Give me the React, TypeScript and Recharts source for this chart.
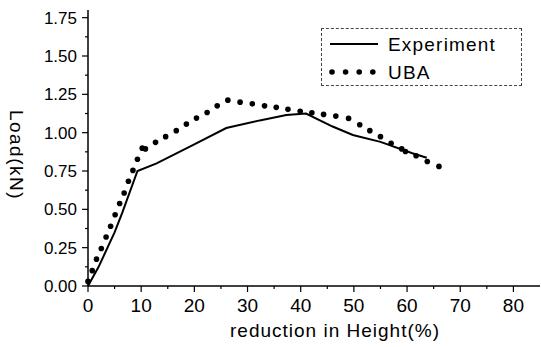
import React from 'react';
import { ComposedChart, Line, XAxis, YAxis, Legend, Label } from 'recharts';

const expX = [0, 2, 3.8, 5, 6.45, 9.3, 12.9, 19.8, 26, 32.3, 37.3, 41, 46, 49.8, 55, 61, 63.7];
const expY = [0, 0.125, 0.26, 0.35, 0.478, 0.75, 0.8, 0.92, 1.03, 1.08, 1.115, 1.125, 1.04, 0.985, 0.94, 0.866, 0.836];

// UBA prediction (dots)
const ubaX = [
  0, 0.8, 1.6, 2.5, 3.4, 4.25, 5.1, 5.95, 6.8, 7.6, 8.45, 9.3, 10.2, 10.8, 12.7, 14.6, 16.6, 18.5, 20.4, 22.4,
  24.3, 26.3, 28.6, 30.9, 33.2, 35.4, 37.6, 39.9, 42.1, 44.3, 46.6, 49, 51.1, 53, 55, 57, 59, 59.7, 61.7, 63.8, 66,
];
const ubaY = [
  0.03, 0.1, 0.175, 0.245, 0.32, 0.39, 0.465, 0.538, 0.607, 0.683, 0.754, 0.827, 0.899, 0.894, 0.937, 0.974, 1.013,
  1.056, 1.095, 1.132, 1.175, 1.212, 1.199, 1.188, 1.175, 1.165, 1.152, 1.139, 1.13, 1.119, 1.108, 1.093, 1.052,
  1.013, 0.974, 0.931, 0.894, 0.877, 0.849, 0.812, 0.78,
];

const xTicks = [0, 5, 10, 15, 20, 25, 30, 35, 40, 45, 50, 55, 60, 65, 70, 75, 80];
const yTicks = [0, 0.125, 0.25, 0.375, 0.5, 0.625, 0.75, 0.875, 1, 1.125, 1.25, 1.375, 1.5, 1.625, 1.75];

const experiment = expX.map((x, i) => ({ x, y: expY[i] }));
const uba = ubaX.map((x, i) => ({ x, y: ubaY[i] }));

const FONT = 'Arial, "Liberation Sans", Helvetica, sans-serif';
const isMajorX = (v: number) => v % 10 === 0;
const isMajorY = (v: number) => Math.abs(v * 4 - Math.round(v * 4)) < 1e-6;

function BottomTick({ x, y, payload }: any) {
  const major = isMajorX(payload.value);
  return (
    <g>
      <line x1={x} x2={x} y1={y} y2={y + (major ? 6 : 3)} stroke="#000" strokeWidth={1.2} />
      {major && (
        <text x={x} y={y + 26} textAnchor="middle" fontSize={19} fontFamily={FONT} fill="#000">
          {payload.value}
        </text>
      )}
    </g>
  );
}

function LeftTick({ x, y, payload }: any) {
  const major = isMajorY(payload.value);
  return (
    <g>
      <line x1={x - (major ? 6 : 3)} x2={x} y1={y} y2={y} stroke="#000" strokeWidth={1.2} />
      {major && (
        <text x={x - 11} y={y + 6} textAnchor="end" fontSize={17} fontFamily={FONT} fill="#000">
          {payload.value.toFixed(2)}
        </text>
      )}
    </g>
  );
}

function TopTick({ x, y, payload }: any) {
  const major = isMajorX(payload.value);
  return <line x1={x} x2={x} y1={y} y2={y + (major ? 6 : 3)} stroke="#000" strokeWidth={1.2} />;
}

function RightTick({ x, y, payload }: any) {
  const major = isMajorY(payload.value);
  return <line x1={x - (major ? 6 : 3)} x2={x} y1={y} y2={y} stroke="#000" strokeWidth={1.2} />;
}

function LegendBox() {
  return (
    <div
      style={{
        width: 201,
        height: 58,
        boxSizing: 'border-box',
        border: '1px dashed #444',
        background: '#fff',
      }}
    >
      <svg width={199} height={56} style={{ display: 'block' }}>
        <line x1={8} x2={56} y1={15} y2={15} stroke="#000" strokeWidth={2} />
        <text x={66} y={22} fontSize={19} fontFamily={FONT} letterSpacing={1.2} fill="#000">
          Experiment
        </text>
        {[0, 1, 2, 3].map((i) => (
          <circle key={i} cx={10 + i * 13.6} cy={43} r={2.8} fill="#000" />
        ))}
        <text x={66} y={50} fontSize={19} fontFamily={FONT} letterSpacing={1.2} fill="#000">
          UBA
        </text>
      </svg>
    </div>
  );
}

export default function App() {
  return (
    <div style={{ position: 'absolute', left: 0, top: 0, width: 541, height: 347, background: '#fff' }}>
      <ComposedChart width={541} height={347} margin={{ top: 10, right: 1, left: 0, bottom: 0 }}>
        <XAxis
          xAxisId="bottom"
          dataKey="x"
          type="number"
          domain={[0, 85]}
          ticks={xTicks}
          interval={0}
          height={61}
          tickSize={0}
          tickMargin={0}
          tickLine={false}
          tick={(p: any) => <BottomTick {...p} />}
          axisLine={{ stroke: '#000', strokeWidth: 1.5 }}
        >
          <Label
            content={() => (
              <text x={335} y={337} textAnchor="middle" fontSize={19} fontFamily={FONT} letterSpacing={1} fill="#000">
                reduction in Height(%)
              </text>
            )}
          />
        </XAxis>
        <XAxis
          xAxisId="top"
          orientation="top"
          dataKey="x"
          type="number"
          domain={[0, 85]}
          ticks={xTicks}
          interval={0}
          height={0}
          tickSize={0}
          tickMargin={0}
          tickLine={false}
          tick={(p: any) => <TopTick {...p} />}
          axisLine={{ stroke: '#000', strokeWidth: 1.5 }}
        />
        <YAxis
          yAxisId="left"
          type="number"
          domain={[0, 1.8]}
          ticks={yTicks}
          interval={0}
          width={88}
          tickSize={0}
          tickMargin={0}
          tickLine={false}
          tick={(p: any) => <LeftTick {...p} />}
          axisLine={{ stroke: '#000', strokeWidth: 1.5 }}
        >
          <Label
            content={() => (
              <text
                x={16}
                y={155}
                transform="rotate(90, 16, 155)"
                textAnchor="middle"
                dominantBaseline="central"
                fontSize={19}
                fontFamily={FONT}
                letterSpacing={1.5}
                fill="#000"
              >
                Load(kN)
              </text>
            )}
          />
        </YAxis>
        <YAxis
          yAxisId="right"
          orientation="right"
          type="number"
          domain={[0, 1.8]}
          ticks={yTicks}
          interval={0}
          width={0}
          tickSize={0}
          tickMargin={0}
          tickLine={false}
          tick={(p: any) => <RightTick {...p} />}
          axisLine={{ stroke: '#000', strokeWidth: 1.5 }}
        />
        <Legend
          layout="horizontal"
          verticalAlign="middle"
          align="center"
          content={() => <LegendBox />}
          wrapperStyle={{ left: 321, top: 28, width: 201, height: 58 }}
        />
        <Line
          xAxisId="bottom"
          yAxisId="left"
          data={experiment}
          dataKey="y"
          type="linear"
          stroke="#000"
          strokeWidth={2}
          dot={false}
          activeDot={false}
          isAnimationActive={false}
        />
        <Line
          xAxisId="bottom"
          yAxisId="left"
          data={uba}
          dataKey="y"
          type="linear"
          stroke="none"
          dot={{ r: 2.8, fill: '#000', stroke: 'none' }}
          activeDot={false}
          isAnimationActive={false}
        />
      </ComposedChart>
    </div>
  );
}
